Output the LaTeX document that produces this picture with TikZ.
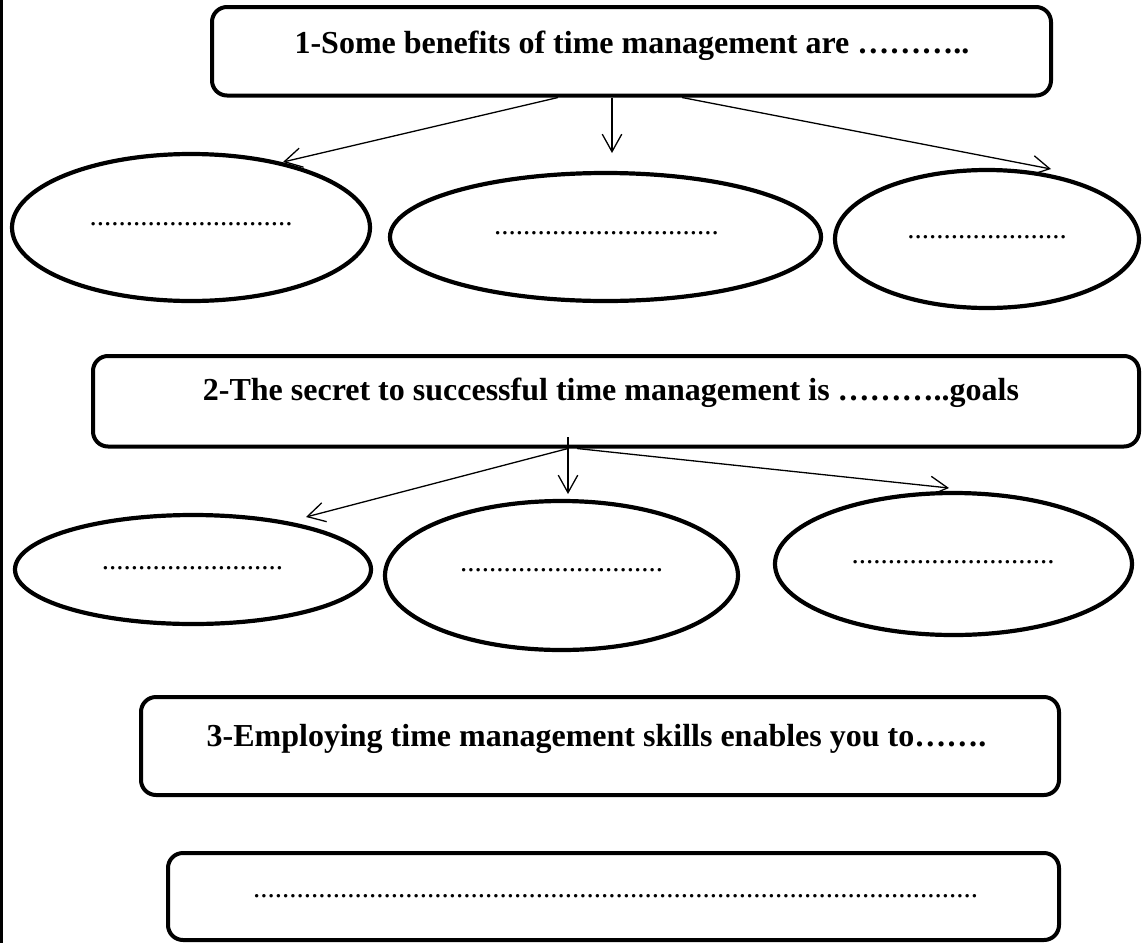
\documentclass[tikz,border=0pt]{standalone}
\usepackage{fontspec}
\setmainfont{Liberation Serif}
\usetikzlibrary{shapes.geometric,arrows.meta,backgrounds}
\newcount\dotcnt
\newcommand\dotrow[1]{\dotcnt=0 \loop\ifnum\dotcnt<#1 .\advance\dotcnt by 1 \repeat}
\begin{document}
\begin{tikzpicture}[x=1pt,y=-1pt,
  box/.style={draw, line width=4pt, rounded corners=15pt, rectangle, inner sep=0pt},
  ell/.style={draw, ellipse, line width=4.2pt, fill=white, inner sep=0pt},
  ttl/.style={font=\fontsize{32}{38}\selectfont\bfseries, anchor=base, inner sep=0pt},
  dts/.style={font=\fontsize{29}{34}\selectfont, anchor=base, inner sep=0pt},
  arr/.style={-{Straight Barb[length=17.5pt,width=19.5pt]}, line width=1.3pt}]
\useasboundingbox (0,0) rectangle (1144,943);

% boxes
\node[box, minimum width=839pt, minimum height=88.5pt] (b1) at (631.5,51.25) {};
\node[box, minimum width=1046pt, minimum height=90.5pt] (b2) at (616,401.25) {};
\node[box, minimum width=918pt, minimum height=98pt] (b3) at (600,746) {};
\node[box, minimum width=891pt, minimum height=87pt] (b4) at (613.5,896.5) {};

% ellipses
\node[ell, minimum width=358pt, minimum height=147pt] (e11) at (191,227.5) {};
\node[ell, minimum width=431pt, minimum height=128pt] (e12) at (605.5,237) {};
\node[ell, minimum width=304pt, minimum height=138pt] (e13) at (987,239) {};
\node[ell, minimum width=356pt, minimum height=109pt] (e21) at (193,569.5) {};
\node[ell, minimum width=353pt, minimum height=149pt] (e22) at (561.5,575.5) {};
\node[ell, minimum width=357pt, minimum height=142pt] (e23) at (953.5,564) {};

% titles
\node[ttl] (t1) at (632,53) {1-Some benefits of time management are ………..};
\node[ttl] (t2) at (611,400) {2-The secret to successful time management is ………..goals};
\node[ttl] (t3) at (596.5,746) {3-Employing time management skills enables you to…….};

% blanks
\node[dts] (d11) at (191,225.5) {\dotrow{28}};
\node[dts] (d12) at (606.5,234.5) {\dotrow{31}};
\node[dts] (d13) at (987,238.5) {\dotrow{22}};
\node[dts] (d21) at (192.5,569.5) {\dotrow{25}};
\node[dts] (d22) at (561.5,571.5) {\dotrow{28}};
\node[dts] (d23) at (953,563.5) {\dotrow{28}};
\node[dts] (d4) at (615.5,897.5) {\dotrow{100}};

% connector end points
\coordinate (s11) at ([xshift=-73.5pt]b1.south);
\coordinate (s12) at ([xshift=-19.5pt]b1.south);
\coordinate (s13) at ([xshift=50.5pt]b1.south);
\coordinate (k11) at (283,162);
\coordinate (k12) at (612,153);
\coordinate (k13) at (1051,169);
\coordinate (s21) at ([xshift=-48pt]b2.south);
\coordinate (s22) at (568,437);
\coordinate (s23) at ([xshift=-39pt]b2.south);
\coordinate (k21) at (306,517);
\coordinate (k22) at (568,494);
\coordinate (k23) at (949,488);

\begin{scope}[on background layer]
  \fill[white] (0,0) rectangle (1144,943);
  \draw[arr] (s11) -- (k11);
  \draw[arr] (s12) -- (k12);
  \draw[arr] (s13) -- (k13);
  \draw[arr] (s21) -- (k21);
  \draw[arr] (s22) -- (k22);
  \draw[arr] (s23) -- (k23);
\end{scope}

% left margin rule
\draw[line width=2.7pt] (1.35,0) -- (1.35,943);
\end{tikzpicture}
\end{document}
